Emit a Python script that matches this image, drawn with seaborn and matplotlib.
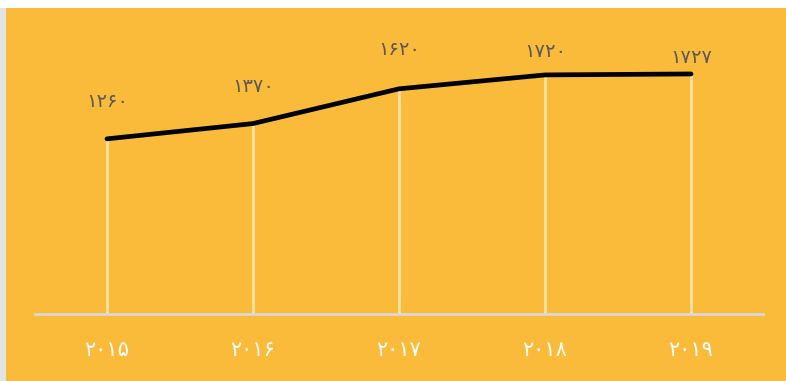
import matplotlib
matplotlib.use("Agg")
import matplotlib.pyplot as plt
from matplotlib.patches import Rectangle
import pandas as pd
import seaborn as sns

# data
years = ["۲۰۱۵", "۲۰۱۶", "۲۰۱۷", "۲۰۱۸", "۲۰۱۹"]
values = [1260, 1370, 1620, 1720, 1727]
value_labels = ["۱۲۶۰", "۱۳۷۰", "۱۶۲۰", "۱۷۲۰", "۱۷۲۷"]
# label offsets above each point (points), as the original places them
label_offsets = [27, 27, 28, 17, 12]

ORANGE = "#FBBB3A"
DROP = "#FDE3A7"
LABEL_GRAY = "#595959"

sns.set_theme(style="white")
plt.rcParams["font.family"] = ["DejaVu Sans"]

fig = plt.figure(figsize=(7.86, 3.81), dpi=100, facecolor="white")
# orange card with a thin grey border strip on the left
fig.patches.append(Rectangle((0, 0), 6 / 786, 1 - 8 / 381, transform=fig.transFigure,
                             facecolor="#e3e3e3", edgecolor="none", zorder=-2))
fig.patches.append(Rectangle((6 / 786, 0), 1, 1 - 8 / 381, transform=fig.transFigure,
                             facecolor=ORANGE, edgecolor="none", zorder=-2))

ax = fig.add_axes([35 / 786, 67 / 381, 728 / 786, 278 / 381])
ax.set_facecolor("none")
ax.set_zorder(2)

df = pd.DataFrame({"year": years, "value": values})
xpos = list(range(len(years)))

ax.vlines(xpos, 0, values, color=DROP, linewidth=2, zorder=1)
sns.lineplot(data=df, x="year", y="value", ax=ax, color="black", linewidth=3.4,
             sort=False, zorder=3)

for x, v, lab, off in zip(xpos, values, value_labels, label_offsets):
    ax.annotate(lab, (x, v), xytext=(0, off), textcoords="offset points",
                ha="center", va="center", fontsize=14, color=LABEL_GRAY)

ax.set_xlim(-0.493, len(years) - 1 + 0.493)
ax.set_ylim(0, 2000)
ax.set_xticks(xpos)
ax.set_xticklabels(years, color="white", fontsize=15)
ax.tick_params(axis="x", length=0, pad=19)
ax.set_yticks([])
ax.set_xlabel("")
ax.set_ylabel("")
for side in ["top", "right", "left"]:
    ax.spines[side].set_visible(False)
ax.spines["bottom"].set_color("#d9d9d9")
ax.spines["bottom"].set_linewidth(2)

fig.savefig("out.png", dpi=100, facecolor="white")
